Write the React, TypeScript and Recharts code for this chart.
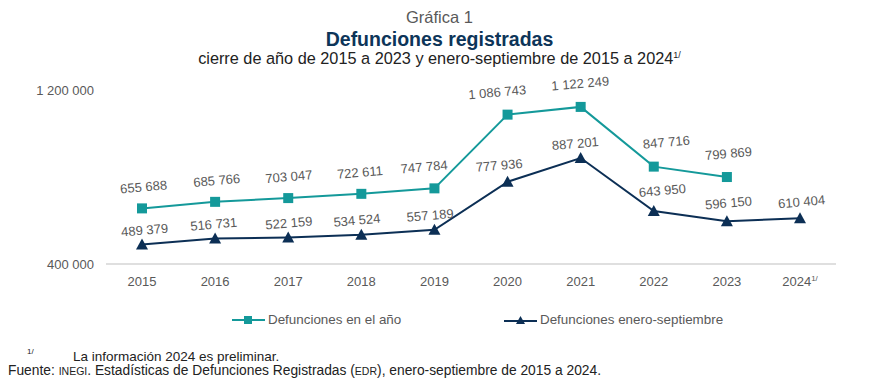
import React from "react";
import { Line, LineChart, XAxis, YAxis } from "recharts";

const TEAL = "#14999a";
const NAVY = "#0c2f55";
const TEXT = "#595959";
const FONT = "'Liberation Sans', Arial, sans-serif";

const years = ["2015", "2016", "2017", "2018", "2019", "2020", "2021", "2022", "2023", "2024"];
const anual = [655688, 685766, 703047, 722611, 747784, 1086743, 1122249, 847716, 799869, null];
const eneSep = [489379, 516731, 522159, 534524, 557189, 777936, 887201, 643950, 596150, 610404];
const yTicks = [400000, 1200000];

// label nudges (x, and rise above the point), as placed in the original
const anualNudge = [2, 2, 1, -1, -10, -10, 0, 13, 2, 0];
const eneSepNudge = [3, -1, 1, -4, -4, -8, -5, 9, 2, 2];
const anualRise = [17, 17, 17, 17, 17, 18, 19, 20, 19, 17];
const eneSepRise = [10, 10, 10, 10, 10, 12, 10, 16, 14, 12];

const data = years.map((year, i) => ({
  year,
  anual: anual[i],
  eneSep: eneSep[i],
}));

const fmt = (v: number) => String(v).replace(/\B(?=(\d{3})+(?!\d))/g, " ");

const SquareDot = (props: any) => {
  const { cx, cy, value } = props;
  if (value == null || cx == null) return null;
  return <rect x={cx - 5} y={cy - 5} width={10} height={10} fill={TEAL} />;
};

const TriangleDot = (props: any) => {
  const { cx, cy, value } = props;
  if (value == null || cx == null) return null;
  return (
    <path
      d={`M${cx},${cy - 6} L${cx + 6},${cy + 5} L${cx - 6},${cy + 5} Z`}
      fill={NAVY}
    />
  );
};

const makeLabel = (nudge: number[], rise: number[]) => (props: any) => {
  const { x, y, value, index } = props;
  if (value == null || x == null) return null;
  const lx = x + (nudge[index] ?? 0);
  const ly = y - (rise[index] ?? 12);
  return (
    <text
      x={lx}
      y={ly}
      textAnchor="middle"
      fontSize={13}
      fill={TEXT}
      fontFamily={FONT}
      transform={`rotate(-5 ${lx} ${ly})`}
    >
      {fmt(value)}
    </text>
  );
};

const AnualLabel = makeLabel(anualNudge, anualRise);
const EneSepLabel = makeLabel(eneSepNudge, eneSepRise);

const YearTick = (props: any) => {
  const { x, y, payload } = props;
  const is2024 = payload.value === "2024";
  return (
    <text x={x} y={y + 14} textAnchor="middle" fontSize={13} fill={TEXT} fontFamily={FONT}>
      {payload.value}
      {is2024 && (
        <tspan fontSize={8} dy={-5}>
          1/
        </tspan>
      )}
    </text>
  );
};

const ChartLegend = () => (
  <div style={{ position: "absolute", left: 0, top: 312, fontFamily: FONT, fontSize: 13.4, color: TEXT }}>
    <div style={{ position: "absolute", left: 232, top: 0, display: "flex", alignItems: "center", whiteSpace: "nowrap" }}>
      <svg width={33} height={12}>
        <line x1={0} y1={6} x2={33} y2={6} stroke={TEAL} strokeWidth={2} />
        <rect x={12} y={2} width={8} height={8} fill={TEAL} />
      </svg>
      <span style={{ marginLeft: 3 }}>Defunciones en el año</span>
    </div>
    <div style={{ position: "absolute", left: 504, top: 0, display: "flex", alignItems: "center", whiteSpace: "nowrap" }}>
      <svg width={33} height={12}>
        <line x1={0} y1={7} x2={33} y2={7} stroke={NAVY} strokeWidth={2} />
        <path d="M16.5,2 L21,10 L12,10 Z" fill={NAVY} />
      </svg>
      <span style={{ marginLeft: 3 }}>Defunciones enero-septiembre</span>
    </div>
  </div>
);

const App: React.FC = () => {
  return (
    <div
      style={{
        position: "absolute",
        left: 0,
        top: 0,
        width: 879,
        height: 391,
        background: "#fff",
        fontFamily: FONT,
        color: TEXT,
      }}
    >
      <div style={{ position: "absolute", top: 8, width: "100%", textAlign: "center", fontSize: 16.5, color: TEXT }}>
        Gráfica 1
      </div>
      <div
        style={{
          position: "absolute",
          top: 28,
          width: "100%",
          textAlign: "center",
          fontSize: 19.5,
          fontWeight: "bold",
          color: "#0d3559",
        }}
      >
        Defunciones registradas
      </div>
      <div style={{ position: "absolute", top: 49, width: "100%", textAlign: "center", fontSize: 16.3, color: "#222" }}>
        cierre de año de 2015 a 2023 y enero-septiembre de 2015 a 2024
        <sup style={{ fontSize: 9 }}>1/</sup>
      </div>

      <div style={{ position: "absolute", left: 0, top: 0 }}>
        <LineChart
          width={879}
          height={294}
          data={data}
          margin={{ top: 90, right: 43, bottom: 0, left: 0 }}
        >
          <XAxis
            dataKey="year"
            axisLine={{ stroke: "#bfbfbf" }}
            tickLine={false}
            tick={<YearTick />}
            height={30}
            interval={0}
            padding={{ left: 36, right: 36 }}
          />
          <YAxis
            domain={[400000, 1200000]}
            ticks={yTicks}
            axisLine={false}
            tickLine={false}
            width={106}
            tickMargin={6}
            tickFormatter={fmt}
            tick={{ fontSize: 13, fill: TEXT, fontFamily: FONT }}
          />
          <Line
            dataKey="anual"
            stroke={TEAL}
            strokeWidth={2}
            dot={<SquareDot />}
            label={<AnualLabel />}
            isAnimationActive={false}
            connectNulls={false}
          />
          <Line
            dataKey="eneSep"
            stroke={NAVY}
            strokeWidth={2}
            dot={<TriangleDot />}
            label={<EneSepLabel />}
            isAnimationActive={false}
          />
        </LineChart>
      </div>

      <ChartLegend />

      <div style={{ position: "absolute", left: 27, top: 347, fontSize: 8, color: "#222" }}>1/</div>
      <div style={{ position: "absolute", left: 73, top: 349, fontSize: 13.5, color: "#222" }}>
        La información 2024 es preliminar.
      </div>
      <div style={{ position: "absolute", left: 8, top: 363, fontSize: 13.8, color: "#222" }}>
        Fuente: <span style={{ fontSize: 10.5 }}>INEGI</span>. Estadísticas de Defunciones Registradas (
        <span style={{ fontSize: 10.5 }}>EDR</span>), enero-septiembre de 2015 a 2024.
      </div>
    </div>
  );
};

export default App;
